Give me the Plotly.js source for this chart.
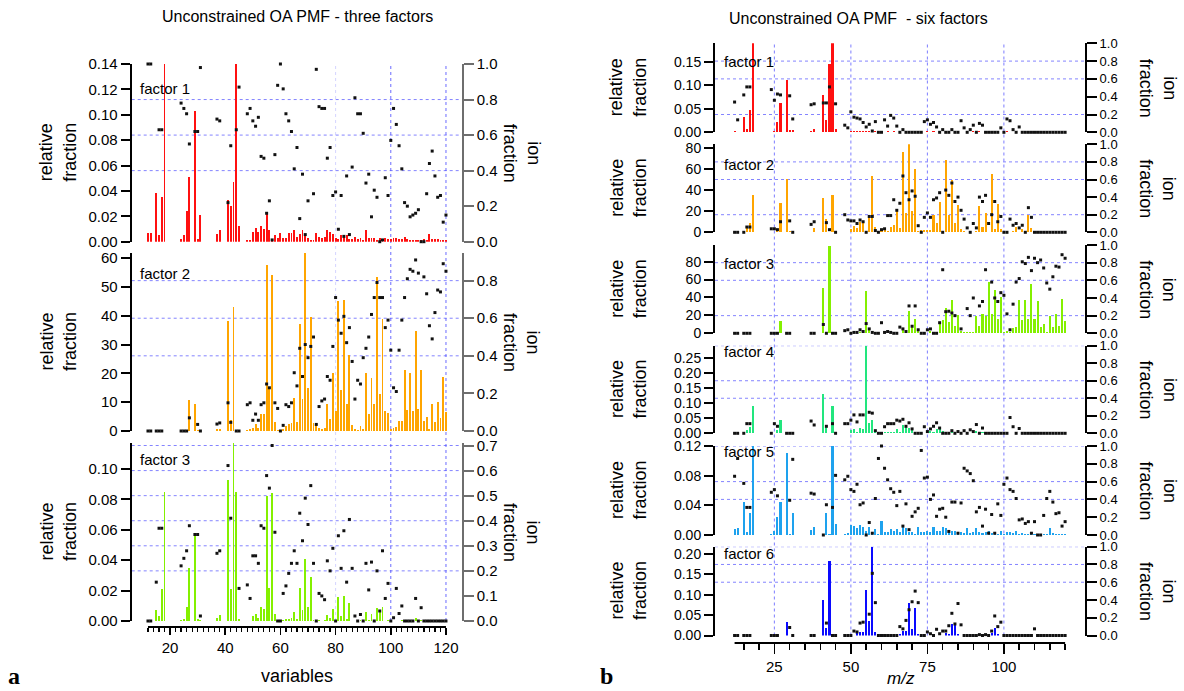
<!DOCTYPE html>
<html><head><meta charset="utf-8">
<script src="https://cdn.plot.ly/plotly-3.0.1.min.js"></script>
<style>html,body{margin:0;padding:0;background:#fff}#chart{width:1184px;height:691px}</style>
</head><body><div id="chart"></div>
<script>
// m/z values (variables)
const mz = [12,13,15,16,17,18,24,25,26,27,29,30,31,37,38,41,42,43,44,45,
  48,49,50,51,52,53,54,55,56,57,58,59,60,61,62,63,64,65,66,67,68,69,70,71,72,73,74,75,76,77,
  78,79,80,81,82,83,84,85,86,87,88,89,90,91,92,93,94,95,96,97,98,99,100,101,102,103,104,105,106,107,
  108,109,110,111,112,113,114,115,116,117,118,119,120];

// ---- Panel a: three factors ----
const a1Rel = [0.007,0.007,0.038,0.005,0.035,0.16,0.002,0.005,0.024,0.051,0.103,0.002,0.021,0.006,0.009,0.033,0.028,0.047,0.16,0.012,
  0.001,0.001,0.008,0.011,0.008,0.012,0.010,0.023,0.009,0.002,
  0.005,0.003,0.007,0.003,0.003,0.007,0.007,0.009,0.004,0.006,
  0.009,0.005,0.003,0.001,0.001,0.007,0.004,0.003,0.004,0.009,
  0.008,0.006,0.003,0.002,0.005,0.004,0.005,0.002,0.002,0.004,
  0.002,0.003,0.001,0.009,0.003,0.003,0.003,0.001,0.003,0.001,
  0.003,0.002,0.002,0.003,0.003,0.002,0.002,0.004,0.002,0.001,
  0.001,0.001,0.001,0.001,0.002,0.001,0.006,0.002,0.002,0.002,
  0.001,0.001,0.001];
const a1Ion = [1.0,1.0,null,0.63,0.63,null,0.78,0.75,0.72,0.55,0.62,0.62,0.98,0.69,0.68,0.22,0.54,null,0.63,0.87,
  0.72,0.75,0.68,0.65,0.70,0.48,0.47,0.16,0.23,0.01,
  0.49,0.88,1.0,0.86,0.72,0.68,0.62,0.41,0.53,0.13,
  0.38,0.04,0.23,null,0.27,0.97,0.76,0.75,0.75,0.47,
  0.53,0.26,0.28,0.07,0.26,0.03,0.37,0.04,0.42,0.81,
  0.72,0.72,0.61,0.33,0.38,0.14,0.29,0.25,0.00,0.01,
  0.36,0.26,0.57,0.75,0.66,0.54,0.41,0.22,0.20,0.14,
  0.15,0.16,0.18,0.00,0.00,0.27,0.44,0.51,0.37,0.25,
  0.26,0.11,0.15];
const a2Rel = [0,0,0,0,0,0,0,0,0.3,10.8,9.3,0.5,0,0.6,0.8,38.2,3.7,43,0.3,0,
  0.5,0.6,1.2,2.5,1.0,6.0,5.8,57.5,15,54,
  3.0,0.5,0.2,0.8,1.8,2.5,2.8,11.5,3.0,37,
  11.2,62,14.8,39.5,2.8,2.8,1.0,0.8,1.0,9.5,
  4.2,20.3,7.0,45.2,14.3,45.5,9.5,26.5,2.0,0.8,
  0.5,1.8,0.8,20.2,6.0,18.5,9.5,53.3,13,39,
  7.0,6.3,0.8,1.0,1.3,3.5,3.6,21.2,7.3,20,
  7.0,34.7,7.5,21.2,3.6,4.8,0.7,9.5,3.2,10,
  4.5,18.8,6.5];
const a2Ion = [0,0,0,0,0,null,0,0,0,0.07,null,0.035,0,0.037,0.043,0.15,0.046,null,0,0,
  0.14,0.15,0.057,0.09,0.057,0.14,0.15,0.25,0.23,null,
  0.15,0.12,0,0.03,0.14,0.13,0.15,0.31,0.24,0.44,
  0.29,0.46,0.39,0.45,0.50,0.035,0.13,0.16,0.17,0.29,
  0.27,0.45,0.71,0.59,0.52,0.61,0.47,0.55,0.37,0.17,
  0.27,0.25,0.39,0.44,0.50,0.62,0.71,0.79,0.71,0.71,
  0.55,0.59,0.43,0.23,0.21,0.43,0.59,0.71,0.81,0.86,
  0.85,0.91,0.84,0.95,0.82,0.73,0.56,0.49,0.63,0.75,
  0.74,0.89,0.85];
const a3Rel = [0,0,0.007,0.0035,0.021,0.085,0.0005,0.0015,0.009,0.035,0.058,0.001,0.0005,0.002,0.004,0.093,0.021,0.125,0.085,0.0015,
  0,0,0.003,0.0045,0.002,0.0095,0.008,0.082,0.022,0.084,
  0.0045,0.0005,0.0003,0.0005,0.001,0.0015,0.002,0.006,0.001,0.022,
  0.007,0.041,0.009,0.029,0.0005,0.0003,0.0005,0.0003,0.0005,0.004,
  0.002,0.008,0.0003,0.016,0.003,0.0165,0.001,0.012,0.0003,0.0003,
  0.0002,0.0005,0.0003,0.006,0.0005,0.0045,0.0005,0.0085,0.0075,0.0095,
  0.0003,0.0005,0.0003,0.0002,0.0003,0.0003,0.0005,0.0005,0.0003,0.0002,
  0.0005,0.002,0.0003,0.0005,0,0,0,0,0,0,
  0,0,0];
const a3Ion = [0,0,0.155,0.37,0.37,null,0.22,0.25,0.28,0.38,0.345,0.345,0.02,0.27,0.28,0.62,0.41,null,null,0.13,
  0.144,0.09,0.26,0.26,0.23,0.38,0.37,0.58,0.53,0.70,
  0.354,0,0,0.11,0.14,0.19,0.23,0.28,0.23,0.43,
  0.32,0.49,0.385,0.54,0.23,0,0.11,0.10,0.085,0.24,
  0.20,0.29,0,0.34,0.21,0.36,0.155,0.405,0.21,0.02,
  0,0.026,0,0.23,0.124,0.235,0,0.20,0.04,0.28,
  0.09,0.15,0,0.013,0.13,0.03,0.06,0,0,0,
  0,0.09,0,0.053,0,0,0,0,0,0,
  0,0,0];

// ---- Panel b: six factors ----
const b1Rel = [0.003,0,0.032,0.006,0.047,0.2,0.001,0.003,0.021,0.062,0.111,0.004,0.005,0.003,0.006,0.079,0.027,0.144,0.2,0.007,
  0,0,0.002,0.002,0.002,0.003,0.002,0.003,0.002,0.001,
  0.003,0.001,0.002,0.001,0.003,0.001,0.003,0.001,0.001,0.001,
  0.001,0.001,0.001,0.001,0.001,0.001,0.001,0.002,0.001,0.002,
  0.001,0.001,0.001,0.001,0.001,0.001,0.001,0.002,0.001,0.001,
  0.001,0.001,0.002,0.001,0.002,0.001,0.001,0.001,0.001,0.001,
  0.001,0.001,0.001,0.002,0.001,0.001,0.001,0.001,0,0,
  0,0,0,0,0,0,0,0,0,0,
  0,0,0];
const b1Ion = [0.34,0.14,0.42,0.51,0.51,null,0.48,0.36,0.43,0.42,null,0.41,0.15,0.31,0.32,0.33,0.33,0.51,null,0.32,
  0.08,0.05,0.23,0.17,0.16,0.15,0.11,0.06,0.09,0.015,
  0.12,0,0,0.14,0.07,0.19,0.16,0.07,0,0.03,
  0,0,0,0,0,0,0.12,0.14,0.09,0.11,
  0.06,0,0.03,0,0,0.03,0,0,0.13,0.05,
  0,0.03,0.08,0,0.10,0.08,0,0,0,0,
  0,0.05,0,0.15,0.13,0.03,0,0.06,0,0,
  0,0,0,0,0,0,0,0,0,0,
  0,0,0];
const b2Rel = [0,0,0,5,9,35,0,0,3,28,50.5,1,0.5,0.5,4,33,12.5,0.5,35,0,
  0.5,0.5,3.5,6,4,10,9.5,0.5,16,53,
  5,1.5,1,3,1.5,5,6.5,20,4.5,76.5,
  18,83.5,20,60,1.5,2,2,2,2,16,
  9,29,0.5,69,16,50,9,26,3,1,
  0.5,0.5,0.5,1,25,5,18,0.5,55.5,3,
  27,3.5,0.5,0.5,0.5,1,5,0.5,3,0.5,
  16,4.5,0.5,0,0,0,0,0,0,0,
  0,0,0];
const b2Ion = [0,0,0,0.06,0.06,null,0.04,0.04,0.03,0.12,null,0.13,0,0.09,0.12,null,0.11,0.03,null,0,
  0.20,0.14,0.13,0.13,0.10,0.14,0.12,0,0.18,0.18,
  0.02,0,0.03,0.04,0.19,0.19,0.37,0.25,0.33,0.64,
  0.45,0.37,0.47,0.41,0.075,0,0.17,0.22,0.17,0.37,
  0.39,0.45,0,0.48,0.42,0.56,0.35,0.40,0.25,0.15,
  0.05,0,0.10,0.05,0.40,0.35,0.42,0.10,0.20,0.35,
  0.12,0.18,0,0,0.15,0.08,0.10,0.05,0.08,0,
  0.28,0.17,0,0,0,0,0,0,0,0,
  0,0,0];
const b3Rel = [0,0,0,0,0,0,0,0,0,14,0,0,0,0,0,50.5,0.5,98,0.5,0,
  0,0,0,0,0,1,1,47,6,0.5,
  0,1,0,0,0,1,1,1,0,4,
  1,25,8,16,4,1,0,0,3,0.5,
  0,12,15,28,13,37.5,8,20,3,1,
  2,2,2,19,8,22,19,57.5,21,48.5,
  16,40,2,3,1,6,7.5,37,15,37,
  16,55,16,36.5,7,10,2,19,7,21,
  8,38,14];
const b3Ion = [0,0,0,0,0,null,0,0,0,null,0,0,null,0,0,0.1,0,null,0,0,
  0.03,0.04,0,0.01,0.01,0.04,0.02,0.11,0.05,0.01,
  0,0,0.12,0.01,0.02,0.01,0,0,0.07,0.05,
  0.02,0.31,0.08,0.31,0.04,0,0,0.04,0.05,0,
  0,0.12,0.72,0.245,0.25,0.23,0.2,null,0.05,null,
  0.28,0.2,0.40,null,0.31,0.36,0.72,null,0.58,0.40,
  0.36,0.46,0.43,0.22,0.04,0.33,0.58,0.62,0.81,0.79,
  0.86,0.71,0.85,0.8,0.83,0.74,0.57,0.5,0.64,0.76,
  0.75,0.89,0.85];
const b4Rel = [0,0,0.003,0.01,0.02,0.09,0,0,0.01,0.043,0,0,0,0.002,0,0.13,0.027,0.002,0.09,0,
  0,0,0.01,0.013,0.005,0.017,0.015,0.29,0.033,0.044,
  0.005,0,0,0.003,0.005,0.005,0.004,0.013,0.005,0.029,
  0.025,0.019,0.01,0.003,0,0,0,0.004,0.008,0.004,
  0.013,0.016,0.008,0.004,0.003,0.006,0.002,0.003,0.002,0.001,
  0.001,0.002,0.001,0.009,0.002,0.004,0.001,0.001,0.001,0.001,
  0.001,0.001,0,0.001,0.001,0.001,0.001,0.001,0,0,
  0,0,0,0,0,0,0,0,0,0,
  0,0,0];
const b4Ion = [0,0,0,0.11,0.11,null,0,0.11,0.08,null,0,0,0,0.14,0.095,null,0.08,null,0.11,0,
  0.11,0.11,0.15,0.21,0.13,0.21,0.21,null,0.24,0.23,
  0.03,0,0,0.075,0.11,0.11,0.11,0.15,0.14,0.16,
  0.08,0.12,0.05,0,0,0,0.075,0.02,0.05,0.08,
  0.12,0.06,0,0,0,0.03,0,0.02,0,0.03,
  0,0.04,0.02,0.10,0,0.06,0,0,0,0,
  0,0,0,0,0.18,0.075,0,0.055,0,0,
  0,0,0,0,0,0,0,0,0,0,
  0,0,0];
const b5Rel = [0.008,0.01,0.044,0.004,0.03,0.13,0.002,0.006,0.024,0.045,0.11,0.002,0.029,0.007,0.011,0.001,0.029,0.002,0.13,0.015,
  0.002,0.003,0.013,0.012,0.01,0.013,0.011,0.005,0.011,0.004,
  0.008,0.002,0.019,0.004,0.004,0.008,0.005,0.008,0.004,0.013,
  0.009,0.004,0.004,0.001,0.011,0.004,0.004,0.006,0.004,0.011,
  0.006,0.005,0.011,0.01,0.007,0.006,0.005,0.003,0.004,0.003,
  0.01,0.003,0.004,0.01,0.004,0.003,0.004,0.005,0.003,0.004,
  0.002,0.005,0.002,0.004,0.004,0.003,0.005,0.002,0.003,0.002,
  0.002,0.002,0.001,0.001,0.002,0.002,0.002,0.009,0.003,0.002,
  0.002,0.001,0.001];
const b5Ion = [0.66,0.86,0.58,0.31,0.31,null,0.48,0.51,0.44,null,null,0.39,0.85,0.47,0.46,0,0.34,null,0.31,0.67,
  0.62,0.66,0.51,0.49,0.57,0.34,0.36,0,0.14,0.02,
  0.41,0.86,1.0,0.75,0.62,0.52,0.48,0.33,0.49,0.10,
  0.35,0.06,0.21,0.26,0.30,0.95,0.64,0.65,0.40,0.45,
  0.21,0.29,0.30,0.20,0.04,0.37,0.37,0.02,0.36,0.75,
  0.72,0.69,0.61,0.26,0.31,0.10,0.29,0.02,0.23,0.02,
  0.35,0.22,0.57,0.64,0.51,0.49,0.41,0.17,0.18,0.13,
  0.15,0.02,0.15,0,0,0.22,0.41,0.49,0.37,0.24,
  0.25,0.10,0.15];
const b6Rel = [0,0,0,0,0,0,0,0,0,0,0.032,0,0,0,0,0.088,0.019,0.184,0,0,
  0,0,0,0,0.008,0.008,0.008,0.111,0.036,0.218,
  0.008,0.003,0.001,0.001,0.001,0.001,0.001,0.001,0.003,0.011,
  0.011,0.079,0.016,0.068,0.003,0,0,0,0,0,
  0,0,0,0.006,0.004,0.029,0.027,0.004,0,0,
  0,0,0,0,0,0,0,0,0.005,0.018,
  0.003,0,0,0,0,0,0,0,0,0,
  0,0,0,0,0,0,0,0,0,0,
  0,0,0];
const b6Ion = [0,0,0,0,0,null,0,0,0,null,null,0.09,0,0,0,null,0.14,null,0,0,
  0,0,0,0.05,0.04,0.14,0.15,null,0.24,0.70,
  0.37,0,0,0,0,0,0,0,0.10,0.075,
  0.17,0.29,0.38,0.50,0.37,0,0,0.04,0.02,0,
  0.07,0.02,0.05,0.05,0.11,0.25,0.13,0.36,0.12,0,
  0,0,0,0,0.01,0,0.01,0,0.05,0.22,
  0.10,0.15,0,0,0,0,0,0,0,0,
  0,0,0.075,0,0,0,0,0,0,0,
  0,0,0];

// ---------- layout helpers ----------
const W = 1184, H = 691;
const fx = px => px / W;
const fy = py => 1 - py / H;
const FONT = 'Liberation Sans, Arial, sans-serif';

const panels = {
  a: {left: 131.7, right: 461.7, range: [6.1, 125.7], rightColor: '#6e6e6e', tick: 15, rtick: 15,
      vgrid: [[80, 'rgba(160,160,255,0.45)'], [100, 'rgba(70,70,255,0.8)'], [120, 'rgba(70,70,255,0.8)']],
      top: 64, bottom: 621, axisY: 627, labX: 138, relX: 58, ionX: 522},
  b: {left: 715, right: 1085, range: [5.6, 126.5], rightColor: '#000000', tick: 14, rtick: 13,
      vgrid: [[25, 'rgba(70,70,255,0.7)'], [50, 'rgba(70,70,255,0.7)'], [75, 'rgba(70,70,255,0.7)'], [100, 'rgba(70,70,255,0.7)']],
      top: 43.3, bottom: 635.5, axisY: 643, labX: 722, relX: 628, ionX: 1158}
};

const seq = (a, b, s) => { const r = []; for (let v = a; v <= b + 1e-9; v += s) r.push(+v.toFixed(4)); return r; };

const subplots = [
  {p: 'a', name: 'factor 1', rel: a1Rel, ion: a1Ion, color: '#ff1010', top: 64, bot: 241.7, lr: [0, 0.14], lt: seq(0, 0.14, 0.02), lf: '.2f', rr: [0, 1], rt: seq(0, 1, 0.2), rg: [0.4, 0.6, 0.8], ldy: 25},
  {p: 'a', name: 'factor 2', rel: a2Rel, ion: a2Ion, color: '#ffa500', top: 253, bot: 431, lr: [0, 61.8], lt: seq(0, 60, 10), lf: 'd', rr: [0, 0.947], rt: seq(0, 0.8, 0.2), rg: [0.4, 0.6, 0.8], ldy: 20},
  {p: 'a', name: 'factor 3', rel: a3Rel, ion: a3Ion, color: '#84f000', top: 443, bot: 621, lr: [0, 0.117], lt: seq(0, 0.10, 0.02), lf: '.2f', rr: [0, 0.71], rt: seq(0, 0.7, 0.1), rg: [0.2, 0.3, 0.4, 0.5, 0.6, 0.7], ldy: 16},
  {p: 'b', name: 'factor 1', rel: b1Rel, ion: b1Ion, color: '#ff1010', top: 43.3, bot: 132.3, lr: [0, 0.189], lt: seq(0, 0.15, 0.05), lf: '.2f', rr: [0, 1], rt: seq(0, 1, 0.2), rg: [0.2, 0.6, 0.8], ldy: 18},
  {p: 'b', name: 'factor 2', rel: b2Rel, ion: b2Ion, color: '#ffa500', top: 144.3, bot: 232.3, lr: [0, 83.5], lt: seq(0, 80, 20), lf: 'd', rr: [0, 1], rt: seq(0, 1, 0.2), rg: [0.2, 0.6, 0.8], ldy: 20},
  {p: 'b', name: 'factor 3', rel: b3Rel, ion: b3Ion, color: '#84f000', top: 245, bot: 333.3, lr: [0, 98.6], lt: seq(0, 80, 20), lf: 'd', rr: [0, 1], rt: seq(0, 1, 0.2), rg: [0.2, 0.6, 0.8], ldy: 18},
  {p: 'b', name: 'factor 4', rel: b4Rel, ion: b4Ion, color: '#22e67e', top: 345.7, bot: 433.3, lr: [0, 0.292], lt: seq(0, 0.25, 0.05), lf: '.2f', rr: [0, 1], rt: seq(0, 1, 0.2), rg: [0.4, 0.6, 1.0], ldy: 6},
  {p: 'b', name: 'factor 5', rel: b5Rel, ion: b5Ion, color: '#1ea2ee', top: 446, bot: 535, lr: [0, 0.12], lt: seq(0, 0.12, 0.04), lf: '.2f', rr: [0, 1], rt: seq(0, 1, 0.2), rg: [0.4, 0.6, 1.0], ldy: 6},
  {p: 'b', name: 'factor 6', rel: b6Rel, ion: b6Ion, color: '#0a0aff', top: 546.7, bot: 635.5, lr: [0, 0.218], lt: seq(0, 0.20, 0.05), lf: '.2f', rr: [0, 1], rt: seq(0, 1, 0.2), rg: [0.6, 0.8, 1.0], ldy: 7}
];

const traces = [];
const layout = {
  width: W, height: H, margin: {l: 0, r: 0, t: 0, b: 0},
  paper_bgcolor: '#fff', plot_bgcolor: 'rgba(0,0,0,0)',
  showlegend: false, bargap: 0, font: {family: FONT, color: '#000', size: 15},
  shapes: [], annotations: []
};

subplots.forEach((sp, i) => {
  const P = panels[sp.p];
  const tickFont = {family: FONT, size: P.tick, color: '#000'};
  const rTickFont = {family: FONT, size: P.rtick, color: '#000'};
  const xn = i + 1, xid = xn === 1 ? 'x' : 'x' + xn;
  const yl = 2 * i + 1, yr = 2 * i + 2;
  const ylid = yl === 1 ? 'y' : 'y' + yl, yrid = 'y' + yr;
  const xkey = xn === 1 ? 'xaxis' : 'xaxis' + xn;
  const ylkey = yl === 1 ? 'yaxis' : 'yaxis' + yl;
  const yrkey = 'yaxis' + yr;

  const mzB = [], relB = [], mzI = [], ionI = [];
  mz.forEach((m, k) => {
    if (sp.rel[k] !== null) { mzB.push(m); relB.push(sp.rel[k]); }
    if (sp.ion[k] !== null) { mzI.push(m); ionI.push(sp.ion[k]); }
  });

  traces.push({type: 'bar', x: mzB, y: relB, xaxis: xid, yaxis: ylid, width: 0.68,
    marker: {color: sp.color, line: {width: 0}}, hoverinfo: 'x+y'});
  traces.push({type: 'scatter', mode: 'markers', x: mzI, y: ionI, xaxis: xid, yaxis: yrid,
    cliponaxis: false, marker: {symbol: 'square', size: 3, color: '#111'}, hoverinfo: 'x+y'});

  const isBottom = (sp.p === 'a' && i === 2) || (sp.p === 'b' && i === 8);
  const xa = {domain: [fx(P.left), fx(P.right)], range: P.range, anchor: ylid,
    showgrid: false, zeroline: false, showline: false, showticklabels: false, ticks: '', fixedrange: true};
  if (isBottom) {
    Object.assign(xa, {anchor: 'free', position: fy(P.axisY), showticklabels: true, ticks: 'outside',
      tickcolor: '#000', tickwidth: 1.5, tickfont: {family: FONT, size: 15, color: '#000'}});
    if (sp.p === 'a') {
      Object.assign(xa, {tickmode: 'array', tickvals: seq(20, 120, 10),
        ticktext: seq(20, 120, 10).map(v => v % 20 === 0 ? String(v) : ''), ticklen: 7,
        minor: {tickmode: 'array', tickvals: seq(12, 120, 2), ticklen: 4, tickcolor: '#000', tickwidth: 1.2}});
    } else {
      Object.assign(xa, {tickmode: 'array', tickvals: [25, 50, 75, 100], ticktext: ['25', '50', '75', '100'], ticklen: 10,
        minor: {tickmode: 'array', tickvals: seq(15, 120, 5), ticklen: 6, tickcolor: '#000', tickwidth: 1.5}});
    }
  }
  layout[xkey] = xa;

  layout[ylkey] = {domain: [fy(sp.bot), fy(sp.top)], range: sp.lr, anchor: xid, side: 'left',
    showline: true, linecolor: '#000', linewidth: 2, ticks: 'outside', ticklen: 9, tickwidth: 2, tickcolor: '#000',
    tickmode: 'array', tickvals: sp.lt, tickformat: sp.lf, tickfont: tickFont,
    showgrid: false, zeroline: false, fixedrange: true};
  layout[yrkey] = {overlaying: ylid, range: sp.rr, anchor: xid, side: 'right',
    showline: true, linecolor: P.rightColor, linewidth: 2, ticks: 'outside', ticklen: 10, tickwidth: 2, tickcolor: P.rightColor,
    tickmode: 'array', tickvals: sp.rt, tickformat: '.1f', tickfont: rTickFont,
    showgrid: false, zeroline: false, fixedrange: true};

  // horizontal dotted grid lines (right-axis values)
  sp.rg.forEach(v => layout.shapes.push({type: 'line', xref: xid + ' domain', x0: 0, x1: 1, yref: yrid, y0: v, y1: v,
    line: {color: 'rgba(80,80,255,0.7)', width: 1, dash: 'dot'}, layer: 'below'}));

  // factor label
  layout.annotations.push({text: sp.name, xref: 'paper', yref: 'paper', x: fx(P.labX), y: fy(sp.top + sp.ldy),
    xanchor: 'left', yanchor: 'middle', showarrow: false, font: {family: FONT, size: 15, color: '#000'}});
  // axis titles
  const cy = fy((sp.top + sp.bot) / 2);
  layout.annotations.push({text: 'relative<br>fraction', xref: 'paper', yref: 'paper', x: fx(P.relX), y: cy,
    xanchor: 'center', yanchor: 'middle', textangle: -90, showarrow: false, font: {family: FONT, size: 18, color: '#000'}});
  layout.annotations.push({text: 'ion<br>fraction', xref: 'paper', yref: 'paper', x: fx(P.ionX), y: cy,
    xanchor: 'center', yanchor: 'middle', textangle: 90, showarrow: false, font: {family: FONT, size: 18, color: '#000'}});

  if (isBottom) {
    // bottom axis baseline spanning the measured m/z range
    layout.shapes.push({type: 'line', xref: xid, x0: 12, x1: 120, yref: 'paper', y0: fy(P.axisY), y1: fy(P.axisY),
      line: {color: '#000', width: 2}});
  }
  if ((sp.p === 'a' && i === 0) || (sp.p === 'b' && i === 3)) {
    P.vgrid.forEach(([v, c]) => layout.shapes.push({type: 'line', xref: xid, x0: v, x1: v, yref: 'paper',
      y0: fy(P.bottom), y1: fy(P.top), line: {color: c, width: 1, dash: 'dot'}, layer: 'below'}));
  }
});

// titles and panel letters
layout.annotations.push({text: 'Unconstrained OA PMF - three factors', xref: 'paper', yref: 'paper', x: fx(297), y: fy(16),
  xanchor: 'center', yanchor: 'middle', showarrow: false, font: {family: FONT, size: 16, color: '#000'}});
layout.annotations.push({text: 'Unconstrained OA PMF  - six factors', xref: 'paper', yref: 'paper', x: fx(858), y: fy(18),
  xanchor: 'center', yanchor: 'middle', showarrow: false, font: {family: FONT, size: 16, color: '#000'}});
layout.annotations.push({text: 'variables', xref: 'paper', yref: 'paper', x: fx(297), y: fy(676),
  xanchor: 'center', yanchor: 'middle', showarrow: false, font: {family: FONT, size: 18, color: '#000'}});
layout.annotations.push({text: '<i>m/z</i>', xref: 'paper', yref: 'paper', x: fx(901), y: fy(678),
  xanchor: 'center', yanchor: 'middle', showarrow: false, font: {family: FONT, size: 17, color: '#000'}});
layout.annotations.push({text: '<b>a</b>', xref: 'paper', yref: 'paper', x: fx(6), y: fy(676),
  xanchor: 'left', yanchor: 'middle', showarrow: false, font: {family: 'Liberation Serif, Times New Roman, serif', size: 24, color: '#000'}});
layout.annotations.push({text: '<b>b</b>', xref: 'paper', yref: 'paper', x: fx(598), y: fy(676),
  xanchor: 'left', yanchor: 'middle', showarrow: false, font: {family: 'Liberation Serif, Times New Roman, serif', size: 24, color: '#000'}});

Plotly.newPlot('chart', traces, layout, {displayModeBar: false, staticPlot: true});
</script>
</body></html>
